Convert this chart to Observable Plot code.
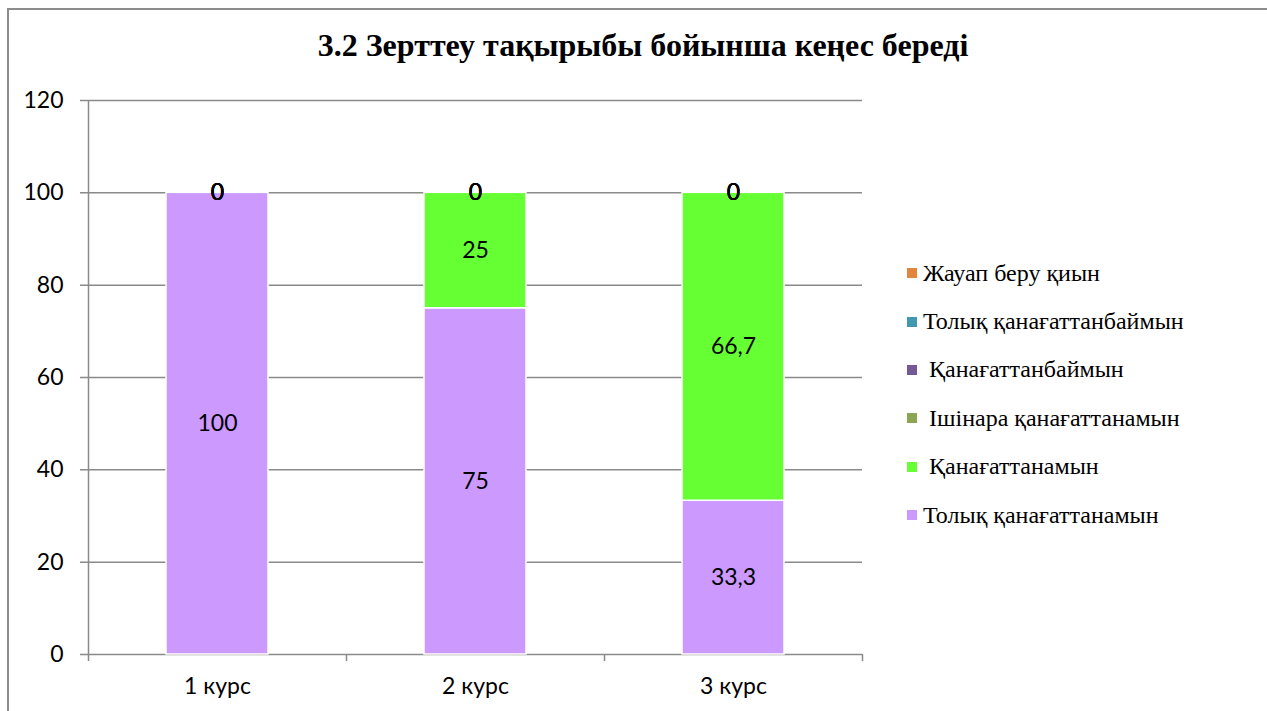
<!DOCTYPE html>
<html><head><meta charset="utf-8">
<script src="https://cdn.jsdelivr.net/npm/d3@7"></script>
<script src="https://cdn.jsdelivr.net/npm/@observablehq/plot@0.6"></script>
<style>
body{margin:0;background:#fff;overflow:hidden}
#wrap{position:relative;width:1267px;height:711px;overflow:hidden}
#border{position:absolute;left:7px;top:8px;width:1400px;height:900px;border:2px solid #8c8c8c;box-sizing:border-box}
#title{position:absolute;left:0;width:1286px;top:27px;text-align:center;font:bold 32px "Liberation Serif","Times New Roman",serif;color:#000}
#legend{position:absolute;left:907px;top:249px;font:24px "Liberation Serif","Times New Roman",serif;color:#000}
#legend .it{height:48.4px;display:flex;align-items:center;white-space:pre}
#legend .sw{width:10px;height:10px;margin-right:6px;flex:none}
#chart{position:absolute;left:0;top:0}
</style></head>
<body><div id="wrap"><div id="border"></div><div id="title"></div><div id="chart"></div><div id="legend"></div></div>
<script>
const titleText = "3.2 Зерттеу тақырыбы бойынша кеңес береді";
const categories = ["1 курс", "2 курс", "3 курс"];
const seriesNames = ["Толық қанағаттанамын", "Қанағаттанамын", "Ішінара қанағаттанамын", "Қанағаттанбаймын", "Толық қанағаттанбаймын", "Жауап беру қиын"];
const legendLabels = ["Толық қанағаттанамын", " Қанағаттанамын", " Ішінара қанағаттанамын", " Қанағаттанбаймын", "Толық қанағаттанбаймын", "Жауап беру қиын"];
const seriesColors = ["#cc99ff", "#66ff33", "#8aa654", "#735a96", "#4199b1", "#e2863c"];
const values = {
  "Толық қанағаттанамын": [100, 75, 33.3],
  "Қанағаттанамын": [0, 25, 66.7],
  "Ішінара қанағаттанамын": [0, 0, 0],
  "Қанағаттанбаймын": [0, 0, 0],
  "Толық қанағаттанбаймын": [0, 0, 0],
  "Жауап беру қиын": [0, 0, 0]
};
const yTicks = [0, 20, 40, 60, 80, 100, 120];

const data = [];
seriesNames.forEach((s, si) => categories.forEach((c, ci) => data.push({cat: c, series: s, order: si, value: values[s][ci]})));
const fmt = v => String(v).replace(".", ",");

document.getElementById("title").textContent = titleText;
const leg = document.getElementById("legend");
for (let i = seriesNames.length - 1; i >= 0; i--) {
  const it = document.createElement("div"); it.className = "it";
  const sw = document.createElement("span"); sw.className = "sw"; sw.style.background = seriesColors[i];
  const tx = document.createElement("span"); tx.textContent = legendLabels[i];
  it.append(sw, tx); leg.append(it);
}

const W = 1267, H = 711, mL = 88, mR = 405, mT = 100, mB = 57;
const step = (W - mL - mR) / categories.length;
const sans = "Lato, 'Open Sans', sans-serif";

const chart = Plot.plot({
  width: W, height: H,
  marginLeft: mL, marginRight: mR, marginTop: mT, marginBottom: mB,
  style: {fontFamily: sans, fontSize: "23px", color: "#000", background: "transparent"},
  x: {domain: categories, paddingInner: 0.605, paddingOuter: 0.3025, label: null},
  y: {domain: [0, 120], label: null},
  color: {domain: seriesNames, range: seriesColors},
  marks: [
    Plot.ruleY(yTicks, {y: d => d, stroke: "#8a8a8a", strokeWidth: 1.5, insetLeft: -8}),
    Plot.ruleX([categories[0]], {x: d => d, dx: -step / 2, y1: 0, y2: 120, stroke: "#8a8a8a", strokeWidth: 1.5}),
    Plot.ruleX(categories, {x: d => d, dx: -step / 2, y1: 0, y2: 0, insetBottom: -7, stroke: "#8a8a8a", strokeWidth: 1.5}),
    Plot.ruleX([categories[categories.length - 1]], {x: d => d, dx: step / 2, y1: 0, y2: 0, insetBottom: -7, stroke: "#8a8a8a", strokeWidth: 1.5}),
    Plot.barY(data, Plot.stackY({x: "cat", y: "value", fill: "series", z: "series", order: seriesNames, stroke: "#ffffff", strokeWidth: 1.5, style: "filter: drop-shadow(0 0 1.5px rgba(0,0,0,0.25))"})),
    Plot.text(data, Plot.stackY({x: "cat", y: "value", z: "series", order: seriesNames, text: d => fmt(d.value), fill: "#000", fontSize: 23, fontFamily: sans})),
    Plot.axisY({ticks: yTicks, tickSize: 0, tickPadding: 25, fontSize: 23, fontFamily: sans}),
    Plot.axisX({tickSize: 0, tickPadding: 23, fontSize: 23, fontFamily: sans})
  ]
});
document.getElementById("chart").append(chart);
</script></body></html>
